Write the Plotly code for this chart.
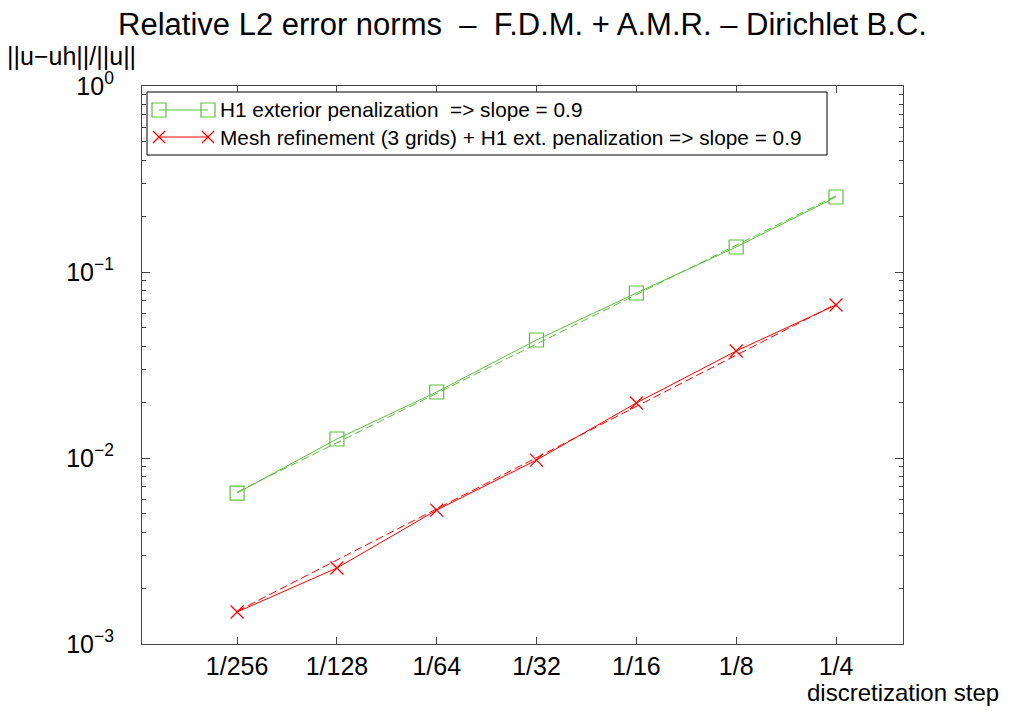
import plotly.graph_objects as go

# ---- data ----
steps = [1/256, 1/128, 1/64, 1/32, 1/16, 1/8, 1/4]
step_labels = ["1/256", "1/128", "1/64", "1/32", "1/16", "1/8", "1/4"]
err_h1 = [0.00648, 0.01265, 0.02264, 0.0431, 0.0771, 0.1363, 0.253]
err_amr = [0.001486, 0.002563, 0.00525, 0.00975, 0.01976, 0.0376, 0.0665]
fit_steps = [1/256, 1/4]
fit_h1 = [0.00656, 0.2566]
fit_amr = [0.00150, 0.0673]
legend_labels = ["H1 exterior penalization  => slope = 0.9",
                 "Mesh refinement (3 grids) + H1 ext. penalization => slope = 0.9"]
y_major = [1e-3, 1e-2, 1e-1, 1e0]
y_major_text = ["10<sup>\u22123</sup>", "10<sup>\u22122</sup>", "10<sup>\u22121</sup>", "10<sup>0</sup>"]

GREEN = "#5cbf3c"
RED = "#ff0000"
AX = "#444444"
FONT = "Liberation Sans, Arial, Helvetica, sans-serif"

W, H = 1010, 711
OFF = 8  # page body margin
# plot area in screen pixels
SL, SR, ST, SB = 142, 903, 86, 644
ML, MT = SL - OFF, ST - OFF
MR, MB = W - (SR - OFF), H - (SB - OFF)
PW, PH = SR - SL, SB - ST


def px(x):
    return (x - SL) / PW


def py(y):
    return (SB - y) / PH


fig = go.Figure()
fig.add_trace(go.Scatter(x=fit_steps, y=fit_h1, mode="lines",
                         line=dict(color=GREEN, width=1, dash="8px,4px"), showlegend=False))
fig.add_trace(go.Scatter(x=fit_steps, y=fit_amr, mode="lines",
                         line=dict(color=RED, width=1, dash="8px,4px"), showlegend=False))
fig.add_trace(go.Scatter(x=steps, y=err_h1, mode="lines+markers", name=legend_labels[0],
                         line=dict(color=GREEN, width=1),
                         marker=dict(symbol="square-open", size=14, color=GREEN, line=dict(width=1.2)),
                         showlegend=False))
fig.add_trace(go.Scatter(x=steps, y=err_amr, mode="lines+markers", name=legend_labels[1],
                         line=dict(color=RED, width=1),
                         marker=dict(symbol="x-thin-open", size=13, color=RED, line=dict(width=1.2, color=RED)),
                         showlegend=False))

minor_y = [k * 10.0 ** e for e in (-3, -2, -1) for k in range(2, 10)]

# ---- custom legend (gnuplot style) ----
shapes = []
annotations = []
shapes.append(dict(type="rect", xref="paper", yref="paper",
                   x0=px(147), x1=px(827), y0=py(155), y1=py(92),
                   line=dict(color="black", width=1), fillcolor="white", layer="above"))
rows = [(110, GREEN, "square"), (137, RED, "x")]
for (yy, col, sym), lab in zip(rows, legend_labels):
    shapes.append(dict(type="line", xref="paper", yref="paper",
                       x0=px(159), x1=px(208), y0=py(yy), y1=py(yy),
                       line=dict(color=col, width=1), layer="above"))
    for cx in (159, 208):
        if sym == "square":
            shapes.append(dict(type="rect", xref="paper", yref="paper",
                               x0=px(cx - 7), x1=px(cx + 7), y0=py(yy + 7), y1=py(yy - 7),
                               line=dict(color=col, width=1.2), layer="above"))
        else:
            for (a, b) in ((-6, 6), (6, -6)):
                shapes.append(dict(type="line", xref="paper", yref="paper",
                                   x0=px(cx - 6), x1=px(cx + 6), y0=py(yy + a), y1=py(yy + b),
                                   line=dict(color=col, width=1.2), layer="above"))
    annotations.append(dict(xref="paper", yref="paper", x=px(218), y=py(yy),
                            xanchor="left", yanchor="middle", showarrow=False,
                            text=lab, font=dict(size=20.8, color="black", family=FONT)))

annotations.append(dict(xref="paper", yref="paper", x=px(5), y=py(56),
                        xanchor="left", yanchor="middle", showarrow=False,
                        text="||u\u2212uh||/||u||", font=dict(size=25, color="black", family=FONT)))
annotations.append(dict(xref="paper", yref="paper", x=px(1001), y=py(692),
                        xanchor="right", yanchor="middle", showarrow=False,
                        text="discretization step", font=dict(size=24, color="black", family=FONT)))

fig.update_layout(
    width=W, height=H, autosize=False,
    margin=dict(l=ML, r=MR, t=MT, b=MB),
    paper_bgcolor="white", plot_bgcolor="white",
    font=dict(family=FONT, color="black"),
    title=dict(text="Relative L2 error norms \u00a0\u2013\u00a0 F.D.M. + A.M.R. \u2013 Dirichlet B.C.",
               x=0.5, xref="paper", xanchor="center", y=1 - 16 / H, yref="container", yanchor="middle",
               font=dict(size=31, color="black", family=FONT)),
    shapes=shapes, annotations=annotations, showlegend=False,
)
fig.update_xaxes(type="log", range=[-2.695, -0.400], tickmode="array", tickvals=steps, ticktext=step_labels,
                 ticks="inside", ticklen=7, tickcolor=AX, showline=True, linecolor=AX, linewidth=1.2,
                 mirror="ticks", showgrid=False, zeroline=False, ticklabelstandoff=0,
                 tickfont=dict(size=25, color="black", family=FONT))
fig.update_yaxes(type="log", range=[-3, 0], tickmode="array", tickvals=y_major, ticktext=y_major_text,
                 ticks="inside", ticklen=8, tickcolor=AX, showline=True, linecolor=AX, linewidth=1.2,
                 mirror="ticks", showgrid=False, zeroline=False, ticklabelstandoff=22,
                 minor=dict(tickmode="array", tickvals=minor_y, ticks="inside", ticklen=4, tickcolor=AX, showgrid=False),
                 tickfont=dict(size=25, color="black", family=FONT))

fig.write_html("out.html")
